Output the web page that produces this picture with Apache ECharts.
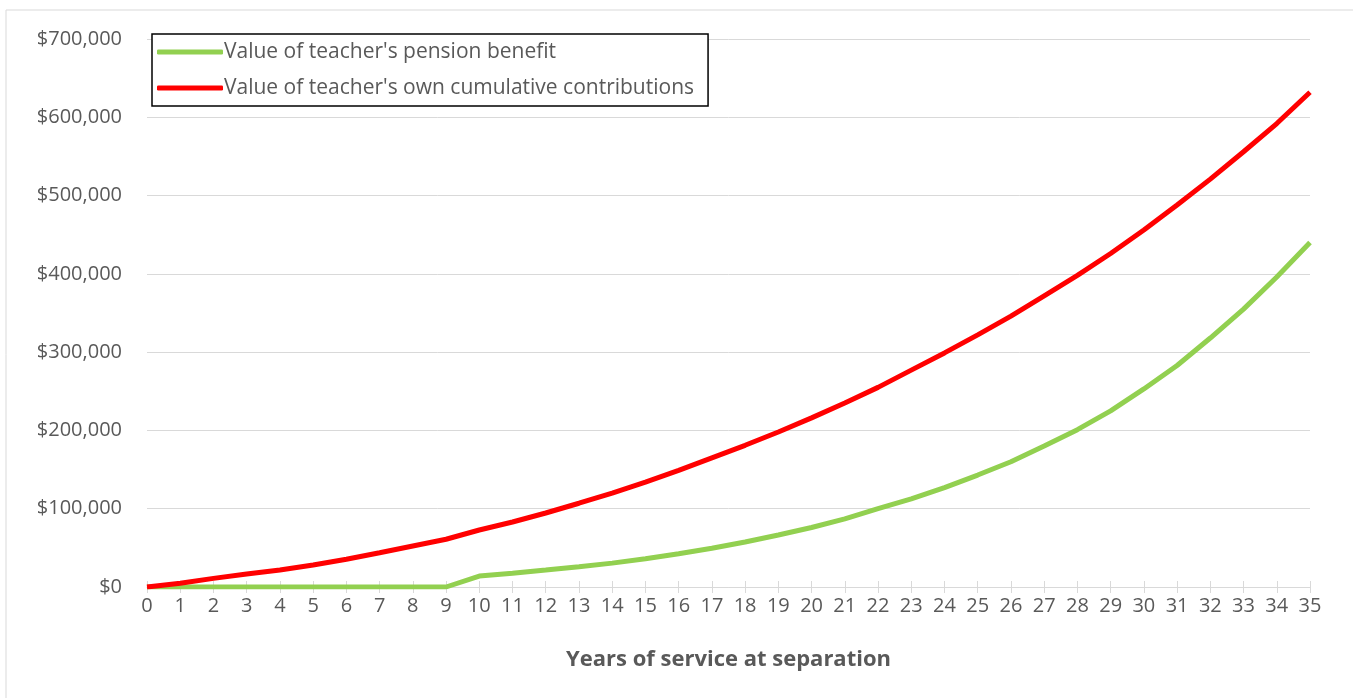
<!DOCTYPE html>
<html>
<head>
<meta charset="utf-8">
<script src="https://cdn.jsdelivr.net/npm/echarts@6/dist/echarts.min.js"></script>
<style>
  html, body { margin: 0; padding: 0; background: #fff; }
  #main { width: 1353px; height: 698px; }
</style>
</head>
<body>
<div id="main"></div>
<script>
// years of service at separation
var years = [];
for (var i = 0; i <= 35; i++) years.push(String(i));

// value of teacher's pension benefit ($)
var pensionBenefit = [0, 0, 0, 0, 0, 0, 0, 0, 0, 0,
  14000, 17500, 21700, 26000, 30500, 36000, 42500, 49500, 57500, 66500,
  76000, 87000, 100000, 112500, 127000, 143000, 160000, 180000, 201000, 225000,
  253000, 283000, 318000, 355000, 396000, 440000];

// value of teacher's own cumulative contributions ($)
var ownContributions = [0, 4700, 11000, 16600, 21700, 28000, 35400, 43800, 52400, 61000,
  72800, 83000, 94500, 107000, 120000, 134000, 149000, 165000, 181000, 198000,
  216000, 235000, 255000, 277000, 299000, 322000, 346000, 372000, 398000, 426000,
  456000, 488000, 521000, 556000, 592000, 632000];

var seriesNames = ["Value of teacher's pension benefit", "Value of teacher's own cumulative contributions"];

var chart = echarts.init(document.getElementById('main'));
var fontFam = '"Open Sans", "Noto Sans", sans-serif';

var option = {
  backgroundColor: '#fff',
  animation: false,
  color: ['#92D050', '#FF0000'],
  graphic: [{
    type: 'rect',
    shape: { x: 6, y: 10, width: 1400, height: 800 },
    style: { fill: 'none', stroke: '#d9d9d9', lineWidth: 1 },
    silent: true
  }],
  grid: {
    left: 147,
    right: 43,
    top: 39,
    bottom: 111,
    containLabel: false
  },
  legend: {
    left: 152,
    top: 34,
    orient: 'vertical',
    backgroundColor: '#fff',
    borderColor: '#000',
    borderWidth: 1.5,
    borderRadius: 0,
    padding: [5, 14, 5, 5],
    itemGap: 10,
    itemWidth: 66,
    itemHeight: 5,
    icon: 'roundRect',
    textStyle: { fontFamily: fontFam, fontSize: 21, lineHeight: 26, color: '#595959', padding: [0, 0, 0, -4] },
    data: seriesNames
  },
  xAxis: [{
    type: 'category',
    data: years,
    boundaryGap: false,
    name: 'Years of service at separation',
    nameLocation: 'middle',
    nameGap: 62,
    nameTextStyle: { fontFamily: fontFam, fontSize: 22, fontWeight: 'bold', color: '#595959' },
    axisLine: { lineStyle: { color: '#d9d9d9', width: 1 } },
    axisTick: { show: true, length: 6, interval: 0, lineStyle: { color: '#d9d9d9' } },
    axisLabel: { fontFamily: fontFam, fontSize: 20, color: '#595959', margin: 9, interval: 0 },
    splitLine: { show: false }
  }, {
    type: 'category',
    data: years,
    boundaryGap: false,
    position: 'bottom',
    offset: -6,
    axisLine: { show: false },
    axisTick: { show: true, length: 6, interval: 0, lineStyle: { color: '#d9d9d9' } },
    axisLabel: { show: false },
    splitLine: { show: false }
  }],
  yAxis: {
    type: 'value',
    min: 0,
    max: 700000,
    interval: 100000,
    axisLine: { show: false },
    axisTick: { show: false },
    axisLabel: {
      fontFamily: fontFam,
      fontSize: 20,
      color: '#595959',
      margin: 25,
      formatter: function (v) {
        return '$' + v.toLocaleString('en-US');
      }
    },
    splitLine: { lineStyle: { color: '#d9d9d9', width: 1 } }
  },
  series: [{
    name: seriesNames[0],
    type: 'line',
    data: pensionBenefit,
    showSymbol: false,
    smooth: false,
    lineStyle: { width: 5, color: '#92D050' },
    itemStyle: { color: '#92D050' },
    z: 3
  }, {
    name: seriesNames[1],
    type: 'line',
    data: ownContributions,
    showSymbol: false,
    smooth: false,
    lineStyle: { width: 5, color: '#FF0000' },
    itemStyle: { color: '#FF0000' },
    z: 4
  }]
};

chart.setOption(option);
</script>
</body>
</html>
